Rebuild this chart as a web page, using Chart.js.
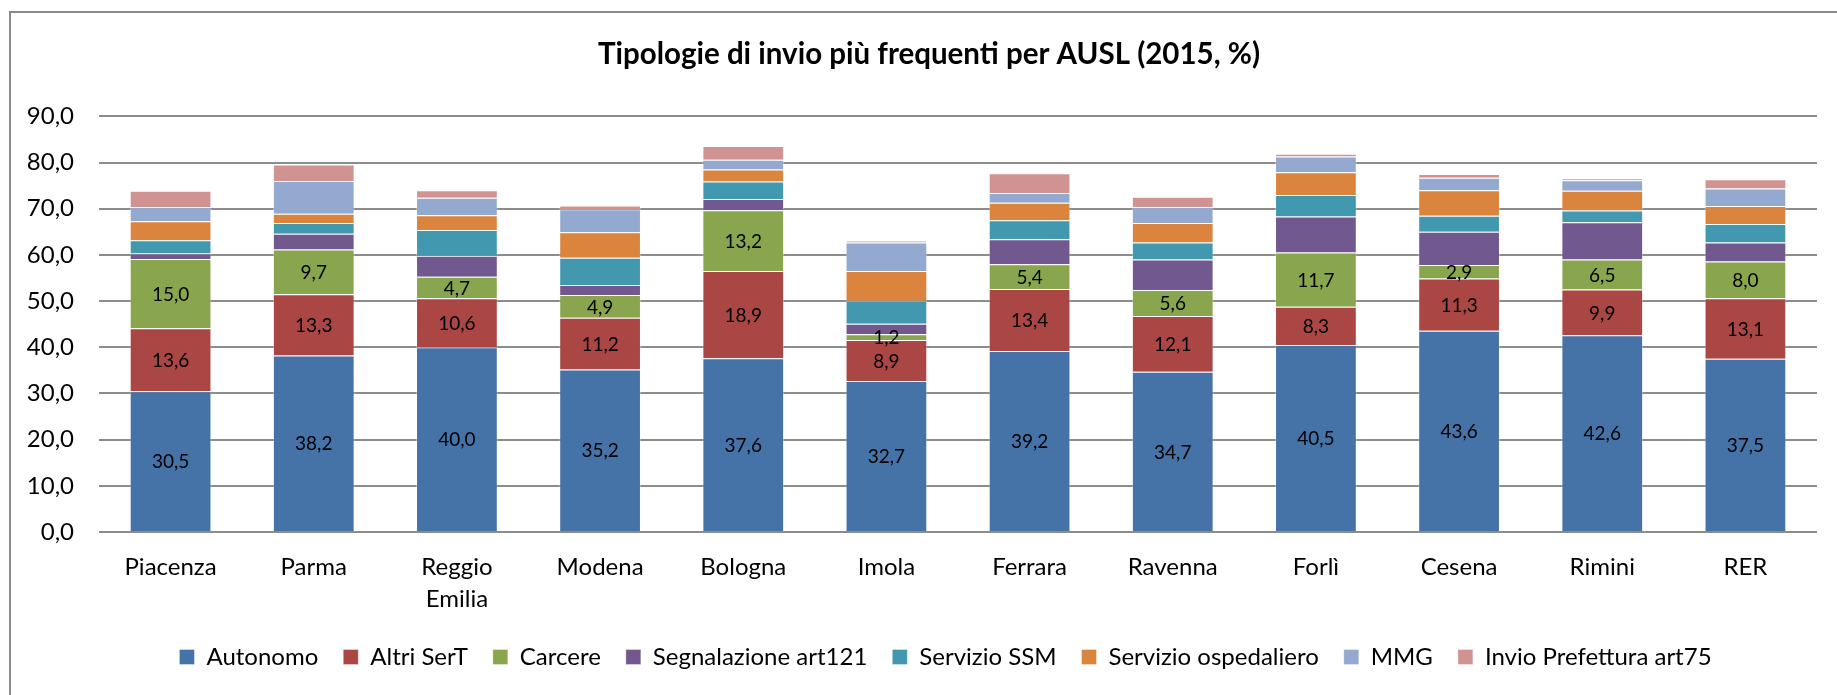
<!DOCTYPE html>
<html><head><meta charset="utf-8">
<script src="https://cdn.jsdelivr.net/npm/chart.js@4.4.1/dist/chart.umd.min.js"></script>
<style>
html,body{margin:0;padding:0;background:#fff;overflow:hidden;width:1837px;height:695px}
#frame{position:absolute;left:9px;top:11px;width:1900px;height:800px;border:2px solid #8a8a8a;box-sizing:border-box}
canvas{position:absolute;left:0;top:0}
</style></head><body>
<div id="frame"></div>
<canvas id="c" width="1837" height="695"></canvas>
<script>
const categories = ['Piacenza', 'Parma', ['Reggio', 'Emilia'], 'Modena', 'Bologna', 'Imola', 'Ferrara', 'Ravenna', 'Forlì', 'Cesena', 'Rimini', 'RER'];
const seriesNames = ['Autonomo', 'Altri SerT', 'Carcere', 'Segnalazione art121', 'Servizio SSM', 'Servizio ospedaliero', 'MMG', 'Invio Prefettura art75'];
const autonomo = [30.5, 38.2, 40.0, 35.2, 37.6, 32.7, 39.2, 34.7, 40.5, 43.6, 42.6, 37.5];
const altriSerT = [13.6, 13.3, 10.6, 11.2, 18.9, 8.9, 13.4, 12.1, 8.3, 11.3, 9.9, 13.1];
const carcere = [15.0, 9.7, 4.7, 4.9, 13.2, 1.2, 5.4, 5.6, 11.7, 2.9, 6.5, 8.0];
const segnalazione = [1.2, 3.4, 4.5, 2.2, 2.4, 2.3, 5.4, 6.6, 7.8, 7.2, 8.1, 4.1];
const servizioSSM = [2.9, 2.3, 5.6, 5.9, 3.8, 5.0, 4.1, 3.7, 4.7, 3.5, 2.5, 4.0];
const servizioOsp = [4.1, 2.0, 3.2, 5.5, 2.6, 6.4, 3.8, 4.2, 4.9, 5.5, 4.3, 3.9];
const mmg = [3.1, 7.1, 3.8, 5.0, 2.1, 6.2, 2.1, 3.5, 3.4, 2.7, 2.3, 3.8];
const prefettura = [3.5, 3.6, 1.6, 0.8, 3.0, 0.4, 4.3, 2.2, 0.6, 0.8, 0.4, 2.0];
const yMin = 0, yMax = 90, yStep = 10;
const labeledSeries = [0, 1, 2];

const colors = ['#4572A7', '#AA4643', '#89A54E', '#71588F', '#4198AF', '#DB843D', '#93A9CF', '#D19392'];
const seriesData = [autonomo, altriSerT, carcere, segnalazione, servizioSSM, servizioOsp, mmg, prefettura];

const fmt = v => Number(v).toFixed(1).replace('.', ',');
const FONT = 'Lato';

const segLabels = {
  id: 'segLabels',
  afterDatasetsDraw(chart) {
    const ctx = chart.ctx;
    ctx.save();
    ctx.font = '19px ' + FONT;
    ctx.fillStyle = '#000';
    ctx.textAlign = 'center';
    ctx.textBaseline = 'middle';
    labeledSeries.forEach(di => {
      const meta = chart.getDatasetMeta(di);
      meta.data.forEach((bar, i) => {
        const v = chart.data.datasets[di].data[i];
        const p = bar.getProps(['x', 'y', 'base'], true);
        ctx.fillText(fmt(v), p.x, (p.y + p.base) / 2 + 1);
      });
    });
    ctx.restore();
  }
};

const shiftBlocks = {
  id: 'shiftBlocks',
  afterLayout(chart) {
    const t = chart.titleBlock;
    if (t) { t.left += 10.5; t.right += 10.5; }
    const l = chart.legend;
    if (l) { l.left += 27; l.right += 27; }
  }
};

new Chart(document.getElementById('c'), {
  type: 'bar',
  data: {
    labels: categories,
    datasets: seriesNames.map((n, i) => ({
      label: n,
      data: seriesData[i],
      backgroundColor: colors[i],
      borderColor: 'rgba(255,255,255,0.35)',
      borderWidth: 1,
      categoryPercentage: 1.0,
      barPercentage: 0.571
    }))
  },
  options: {
    responsive: false,
    animation: false,
    layout: { padding: { left: 20, right: 20, top: 0, bottom: 16 } },
    plugins: {
      title: {
        display: true,
        text: 'Tipologie di invio più frequenti per AUSL (2015, %)',
        font: { family: FONT, size: 29.5, weight: 'bold' },
        color: '#000',
        padding: { top: 37, bottom: 44 }
      },
      legend: {
        position: 'bottom',
        labels: {
          font: { family: FONT, size: 24 },
          color: '#000',
          boxWidth: 15,
          boxHeight: 15,
          padding: 25
        }
      },
      tooltip: { enabled: false }
    },
    scales: {
      x: {
        stacked: true,
        grid: { display: false, drawTicks: false },
        border: { display: false },
        afterFit: s => { s.height = 88; },
        ticks: {
          color: '#000',
          font: { family: FONT, size: 24, lineHeight: 1.333 },
          padding: 19,
          maxRotation: 0,
          autoSkip: false
        }
      },
      y: {
        stacked: true,
        min: yMin,
        max: yMax,
        afterFit: s => { s.width = 79; },
        grid: { color: '#8c8c8c', lineWidth: 2, drawTicks: false },
        border: { display: false },
        ticks: {
          stepSize: yStep,
          color: '#000',
          font: { family: FONT, size: 24 },
          padding: 25,
          callback: v => fmt(v)
        }
      }
    }
  },
  plugins: [segLabels, shiftBlocks]
});
</script>
</body></html>
